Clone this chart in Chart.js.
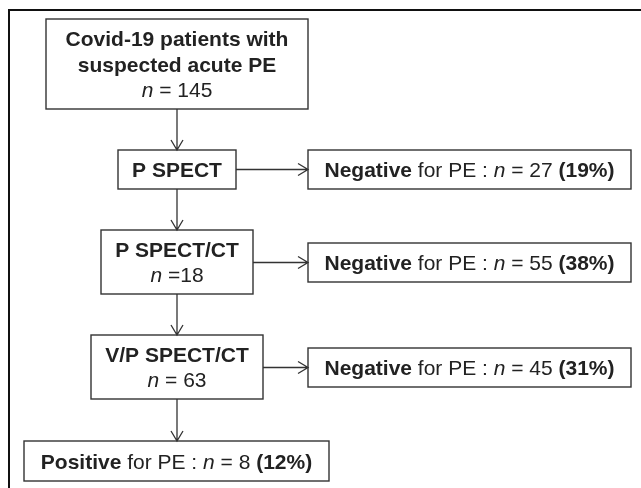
<!DOCTYPE html>
<html>
<head>
<meta charset="utf-8">
<script src="https://cdn.jsdelivr.net/npm/chart.js@4/dist/chart.umd.min.js"></script>
<style>
  html, body { margin: 0; padding: 0; background: #fff; }
</style>
</head>
<body>
<canvas id="flow" width="641" height="488"></canvas>
<script>
// flow data
const startLines = ['Covid-19 patients with', 'suspected acute PE'];
const startN = 145;
const steps = ['P SPECT', 'P SPECT/CT', 'V/P SPECT/CT'];
const stepN = [null, 18, 63];
const negN = [27, 55, 45];
const negPct = [19, 38, 31];
const posN = 8;
const posPct = 12;

// layout, in the same units as the hidden axes (0..641 x 0..488)
const spine = 177;
const startBox = [46, 308, 19, 109];
const stepBoxes = [[118, 236, 150, 189], [101, 253, 230, 294], [91, 263, 335, 399]];
const negBoxes = [[308, 631, 150, 189], [308, 631, 243, 282], [308, 631, 348, 387]];
const posBox = [24, 329, 441, 481];

const FONT = '"Liberation Sans", Arial, sans-serif';
const SIZE = 21;
const INK = '#222';
const LINE = '#333';

function runsWidth(ctx, runs) {
  let w = 0;
  runs.forEach(r => { ctx.font = fontFor(r[1]); w += ctx.measureText(r[0]).width; });
  return w;
}
function fontFor(s) {
  if (s === 'b') return 'bold ' + SIZE + 'px ' + FONT;
  if (s === 'i') return 'italic ' + SIZE + 'px ' + FONT;
  return SIZE + 'px ' + FONT;
}
function drawRuns(ctx, runs, cx, cy) {
  let x = cx - runsWidth(ctx, runs) / 2;
  ctx.fillStyle = INK;
  ctx.textBaseline = 'alphabetic';
  ctx.textAlign = 'left';
  runs.forEach(r => {
    ctx.font = fontFor(r[1]);
    ctx.fillText(r[0], x, cy + SIZE * 0.36);
    x += ctx.measureText(r[0]).width;
  });
}

const flowPlugin = {
  id: 'flow',
  afterDraw(chart) {
    const ctx = chart.ctx;
    const sx = v => chart.scales.x.getPixelForValue(v);
    const sy = v => chart.scales.y.getPixelForValue(v);

    function box(b, lines) {
      const x0 = sx(b[0]), x1 = sx(b[1]), y0 = sy(b[2]), y1 = sy(b[3]);
      ctx.strokeStyle = LINE;
      ctx.lineWidth = 1.4;
      ctx.strokeRect(x0, y0, x1 - x0, y1 - y0);
      const cx = (x0 + x1) / 2, cy = (y0 + y1) / 2;
      const lh = 25.5;
      lines.forEach((runs, i) => {
        drawRuns(ctx, runs, cx, cy + (i - (lines.length - 1) / 2) * lh);
      });
    }
    function arrow(xa, ya, xb, yb) {
      const x0 = sx(xa), y0 = sy(ya), x1 = sx(xb), y1 = sy(yb);
      const ang = Math.atan2(y1 - y0, x1 - x0);
      ctx.strokeStyle = LINE;
      ctx.lineWidth = 1.3;
      ctx.beginPath();
      ctx.moveTo(x0, y0);
      ctx.lineTo(x1, y1);
      const len = 10, half = 6;
      const bx = x1 - Math.cos(ang) * len, by = y1 - Math.sin(ang) * len;
      ctx.moveTo(bx - Math.sin(ang) * half, by + Math.cos(ang) * half);
      ctx.lineTo(x1, y1);
      ctx.lineTo(bx + Math.sin(ang) * half, by - Math.cos(ang) * half);
      ctx.stroke();
    }

    ctx.save();
    // outer frame (top and left only)
    ctx.strokeStyle = '#111';
    ctx.lineWidth = 2;
    ctx.beginPath();
    ctx.moveTo(sx(9), sy(488));
    ctx.lineTo(sx(9), sy(10));
    ctx.lineTo(sx(641), sy(10));
    ctx.stroke();

    box(startBox, [
      [[startLines[0], 'b']],
      [[startLines[1], 'b']],
      [['n', 'i'], [' = ' + startN, 'r']]
    ]);

    let prevBottom = startBox[3];
    steps.forEach((s, i) => {
      const b = stepBoxes[i];
      const lines = [[[s, 'b']]];
      if (stepN[i] !== null) lines.push([['n', 'i'], [(i === 1 ? ' =' : ' = ') + stepN[i], 'r']]);
      arrow(spine, prevBottom, spine, b[2]);
      box(b, lines);
      const nb = negBoxes[i];
      const ay = (nb[2] + nb[3]) / 2;
      arrow(b[1], ay, nb[0], ay);
      box(nb, [[['Negative', 'b'], [' for PE : ', 'r'], ['n', 'i'], [' = ' + negN[i] + ' ', 'r'], ['(' + negPct[i] + '%)', 'b']]]);
      prevBottom = b[3];
    });

    arrow(spine, prevBottom, spine, posBox[2]);
    box(posBox, [[['Positive', 'b'], [' for PE : ', 'r'], ['n', 'i'], [' = ' + posN + ' ', 'r'], ['(' + posPct + '%)', 'b']]]);
    ctx.restore();
  }
};

new Chart(document.getElementById('flow'), {
  type: 'scatter',
  data: { datasets: [{ data: [], pointRadius: 0 }] },
  options: {
    responsive: false,
    animation: false,
    devicePixelRatio: 1,
    layout: { padding: 0 },
    plugins: { legend: { display: false }, tooltip: { enabled: false } },
    scales: {
      x: { type: 'linear', min: 0, max: 641, display: false },
      y: { type: 'linear', min: 0, max: 488, reverse: true, display: false }
    }
  },
  plugins: [flowPlugin]
});
</script>
</body>
</html>
